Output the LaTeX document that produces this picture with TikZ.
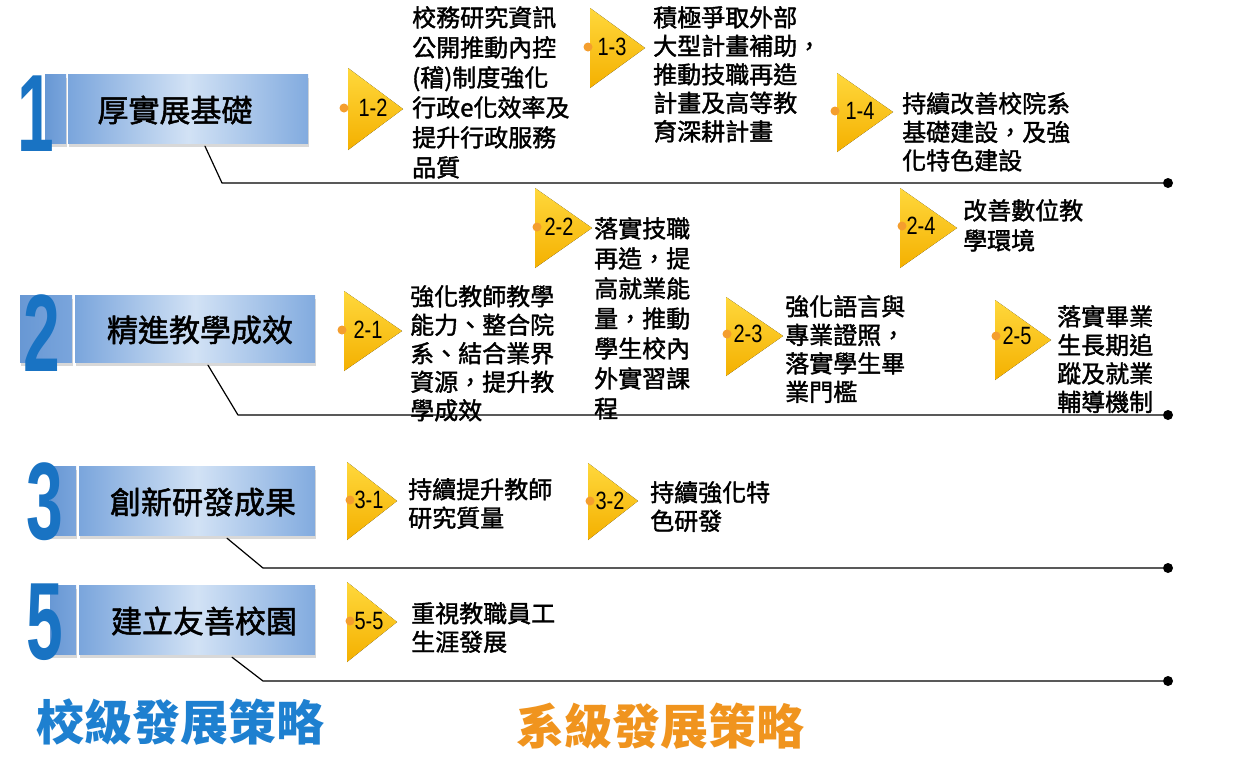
\documentclass[tikz,border=0pt]{standalone}
\usepackage{fontspec}
\setmainfont{Noto Sans CJK TC}
\newfontfamily\bodyfont{Noto Sans CJK TC}[FakeBold=1.6]
\newfontfamily\latinfont{Liberation Sans}
\usetikzlibrary{shadows}
\definecolor{numblue}{RGB}{25,115,195}
\definecolor{boxside}{RGB}{104,152,212}
\definecolor{boxleft}{RGB}{122,165,220}
\definecolor{boxmid}{RGB}{210,226,245}
\definecolor{boxright}{RGB}{130,171,223}
\definecolor{tritop}{RGB}{255,216,60}
\definecolor{tribot}{RGB}{244,176,0}
\definecolor{dotorange}{RGB}{244,158,46}
\definecolor{titleblue}{RGB}{30,128,208}
\definecolor{titleorange}{RGB}{240,148,30}

\begin{document}
\begin{tikzpicture}[line cap=round,line join=round,x=1pt,y=-1pt,
  sidebox/.style={left color=boxside,right color=boxleft,drop shadow={shadow xshift=1pt,shadow yshift=-4pt,opacity=0.3}},
  mainbox/.style={rectangle,inner sep=0pt,left color=boxleft,right color=boxright,middle color=boxmid,drop shadow={shadow xshift=1pt,shadow yshift=-4pt,opacity=0.3}},
  num/.style={font=\latinfont\bfseries\fontsize{110}{110}\selectfont,text=numblue,inner sep=0pt,xscale=0.6},
  ttl/.style={font=\bodyfont\fontsize{31}{31}\selectfont,inner sep=0pt},
  tri/.style={top color=tritop,bottom color=tribot},
  odot/.style={circle,fill=dotorange,inner sep=0pt,minimum size=9pt},
  lbl/.style={font=\latinfont\fontsize{25}{25}\selectfont,inner sep=0pt,xscale=0.8},
  txt/.style={anchor=north west,align=left,inner sep=0pt,font=\bodyfont\fontsize{24}{28.5}\selectfont},
  edot/.style={circle,fill=black,inner sep=0pt,minimum size=10pt},
  conn/.style={line width=1.2pt,black}]
\useasboundingbox (0,0) rectangle (1237,761);
\fill[white] (0,0) rectangle (1237,761);

\path[sidebox] (45,74) rectangle (66,143);
\node[mainbox,minimum width=240pt,minimum height=69pt] (b1) at (188,108.5) {};
\node[num] (n1) at (36,114) {1};
\node[ttl] (h1) at (175,110) {厚實展基礎};
\path[sidebox] (20,295) rectangle (72,362);
\node[mainbox,minimum width=240pt,minimum height=67pt] (b2) at (195,328.5) {};
\node[num] (n2) at (42,333) {2};
\node[ttl] (h2) at (200,330) {精進教學成效};
\path[sidebox] (50,466) rectangle (76,535);
\node[mainbox,minimum width=236pt,minimum height=69pt] (b3) at (197,500.5) {};
\node[num] (n3) at (45,502) {3};
\node[ttl] (h3) at (203,502) {創新研發成果};
\path[sidebox] (50,585) rectangle (76,654);
\node[mainbox,minimum width=236pt,minimum height=69pt] (b5) at (197,619.5) {};
\node[num] (n5) at (45,622) {5};
\node[ttl] (h5) at (204,621) {建立友善校園};

\coordinate (c1) at (222,183);
\coordinate (c2) at (238,415);
\coordinate (c3) at (263,568);
\coordinate (c5) at (263,681);
\node[edot] (e1) at (1168,183) {};
\node[edot] (e2) at (1168,415) {};
\node[edot] (e3) at (1168,568) {};
\node[edot] (e5) at (1168,681) {};
\draw[conn] ([xshift=17pt,yshift=-3pt]b1.south) -- (c1) -- (e1);
\draw[conn] ([xshift=13pt,yshift=-3pt]b2.south) -- (c2) -- (e2);
\draw[conn] ([xshift=30pt,yshift=-3pt]b3.south) -- (c3) -- (e3);
\draw[conn] ([xshift=35pt,yshift=-3pt]b5.south) -- (c5) -- (e5);

\fill[tri] (348,68) -- (403,109) -- (348,150) -- cycle;
\fill[tri] (590,8) -- (645,48) -- (590,88) -- cycle;
\fill[tri] (837,73) -- (893,112) -- (837,152) -- cycle;
\fill[tri] (535,188) -- (592,228) -- (535,268) -- cycle;
\fill[tri] (900,188) -- (957,228) -- (900,268) -- cycle;
\fill[tri] (344,291) -- (402,331) -- (344,371) -- cycle;
\fill[tri] (726,297) -- (783,336) -- (726,376) -- cycle;
\fill[tri] (995,300) -- (1051,340) -- (995,380) -- cycle;
\fill[tri] (347,462) -- (397,501) -- (347,540) -- cycle;
\fill[tri] (588,463) -- (638,501) -- (588,540) -- cycle;
\fill[tri] (347,582) -- (397,622) -- (347,662) -- cycle;
\node[odot] (d12) at (344,108) {};
\node[odot] (d13) at (588,47) {};
\node[odot] (d14) at (835,111) {};
\node[odot] (d22) at (537,227) {};
\node[odot] (d24) at (902,226) {};
\node[odot] (d21) at (342,330) {};
\node[odot] (d23) at (727,334) {};
\node[odot] (d25) at (996,336) {};
\node[odot] (d31) at (350,500) {};
\node[odot] (d32) at (590,501) {};
\node[odot] (d55) at (350,621) {};
\node[lbl] (l12) at (373,108) {1-2};
\node[lbl] (l13) at (612,47) {1-3};
\node[lbl] (l14) at (860,111) {1-4};
\node[lbl] (l22) at (559,227) {2-2};
\node[lbl] (l24) at (921,226) {2-4};
\node[lbl] (l21) at (368,330) {2-1};
\node[lbl] (l23) at (748,334) {2-3};
\node[lbl] (l25) at (1017,336) {2-5};
\node[lbl] (l31) at (369,500) {3-1};
\node[lbl] (l32) at (610,501) {3-2};
\node[lbl] (l55) at (369,621) {5-5};

\node[txt,font=\bodyfont\fontsize{24}{30}\selectfont] (t12) at (412,6) {校務研究資訊\\公開推動內控\\(稽)制度強化\\行政e化效率及\\提升行政服務\\品質};
\node[txt] (t13) at (653,6) {積極爭取外部\\大型計畫補助，\\推動技職再造\\計畫及高等教\\育深耕計畫};
\node[txt] (t14) at (902,92) {持續改善校院系\\基礎建設，及強\\化特色建設};
\node[txt,font=\bodyfont\fontsize{24}{30}\selectfont] (t22) at (594,217) {落實技職\\再造，提\\高就業能\\量，推動\\學生校內\\外實習課\\程};
\node[txt,font=\bodyfont\fontsize{24}{30}\selectfont] (t24) at (963,199) {改善數位教\\學環境};
\node[txt] (t21) at (410,285) {強化教師教學\\能力、整合院\\系、結合業界\\資源，提升教\\學成效};
\node[txt] (t23) at (785,295) {強化語言與\\專業證照，\\落實學生畢\\業門檻};
\node[txt] (t25) at (1057,305) {落實畢業\\生長期追\\蹤及就業\\輔導機制};
\node[txt] (t31) at (408,478) {持續提升教師\\研究質量};
\node[txt] (t32) at (650,481) {持續強化特\\色研發};
\node[txt] (t55) at (411,602) {重視教職員工\\生涯發展};

\node[font=\bfseries\fontsize{48}{48}\selectfont,text=titleblue,inner sep=0pt] (school) at (180,722) {校級發展策略};
\node[font=\bfseries\fontsize{48}{48}\selectfont,text=titleorange,inner sep=0pt] (dept) at (660,726) {系級發展策略};
\end{tikzpicture}
\end{document}
